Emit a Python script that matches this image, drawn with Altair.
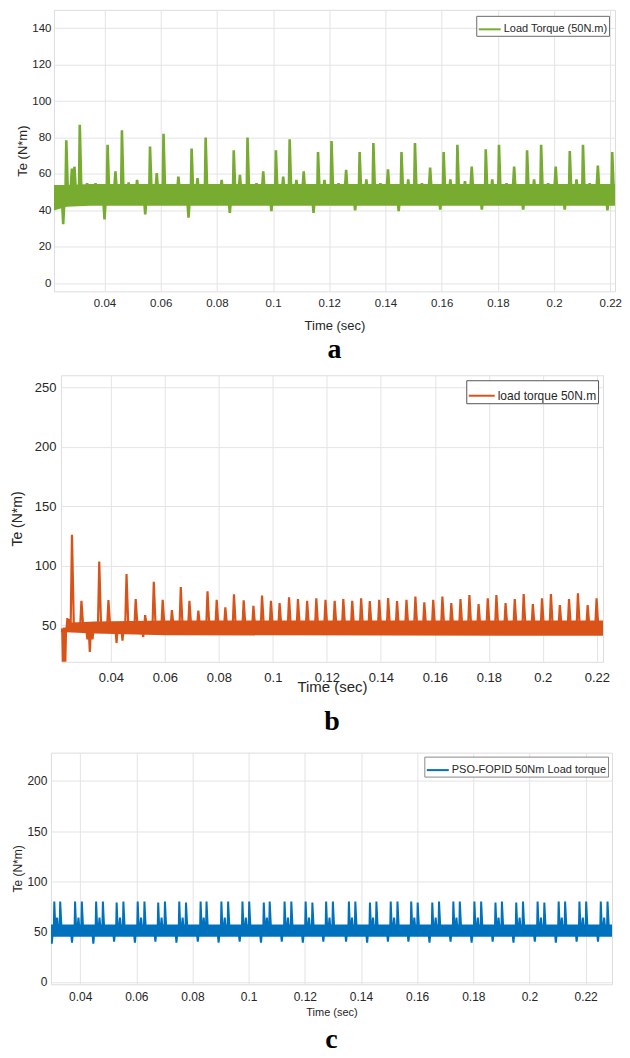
import altair as alt
import pandas as pd

FONT = "Liberation Sans"
SERIF = "Liberation Serif"
TXT = "#262626"
GRID = "#e4e4e4"

x_ticks = [0.04, 0.06, 0.08, 0.10, 0.12, 0.14, 0.16, 0.18, 0.20, 0.22]

# ---------------- panel a (green) ----------------
a_label = "Load Torque (50N.m)"
a_color = "#77AC30"
a_xdom = [0.022, 0.2217]
a_ydom = [-4.4, 150]
a_yticks = [0, 20, 40, 60, 80, 100, 120, 140]
a_ends_t = [0.022, 0.2217]
a_ends_v = [50, 50]
a_spike_t = [0.0264, 0.0312, 0.0411, 0.0462, 0.0562, 0.0610, 0.0710, 0.0760, 0.0860,
             0.0909, 0.1010, 0.1059, 0.1160, 0.1208, 0.1308, 0.1357, 0.1457, 0.1505,
             0.1607, 0.1656, 0.1757, 0.1804, 0.1904, 0.1954, 0.2056, 0.2103, 0.2207]
a_spike_v = [78.5, 87, 76, 84, 75, 82, 74, 80, 73, 80, 73, 79, 72, 78, 72, 77, 72, 77,
             72, 76, 73.5, 76, 73, 76, 72.6, 76, 72]
a_bump_t = [0.0284, 0.0293, 0.0338, 0.0368, 0.0439, 0.0486, 0.0516, 0.0586, 0.0634,
            0.0663, 0.0731, 0.0787, 0.0817, 0.0882, 0.0941, 0.0965, 0.1036, 0.1083,
            0.1109, 0.1183, 0.1233, 0.1260, 0.1332, 0.1382, 0.1409, 0.1481, 0.1530,
            0.1559, 0.1631, 0.1683, 0.1707, 0.1780, 0.1831, 0.1858, 0.1929, 0.1979,
            0.2006, 0.2080, 0.2127, 0.2156]
a_bump_v = [63, 64, 55, 55, 61.4, 55.3, 56.8, 60.5, 54, 58.6, 57.7, 54, 56.8, 59.5,
            55, 61.4, 58.6, 56.8, 61.4, 56.8, 55, 62.3, 57, 55, 62.6, 57, 55, 63.5,
            57, 56, 64, 57, 55, 64, 57, 55, 64, 57, 55, 64.6]
a_dip_t = [0.0253, 0.0400, 0.0545, 0.0699, 0.0846, 0.0994, 0.1144, 0.1292, 0.1447,
           0.1595, 0.1743, 0.1890, 0.2038, 0.2190]
a_dip_v = [32.4, 35, 37.8, 36, 38.7, 39.6, 38.7, 40, 39.6, 40.5, 40.5, 40.5, 40.5, 40]
a_band_t = [0.022, 0.0265, 0.035, 0.2217]
a_band_lo = [40, 42, 42.5, 42.5]
a_band_hi = [54, 54, 54.5, 54.5]

# ---------------- panel b (orange) ----------------
b_label = "load torque 50N.m"
b_color = "#D95319"
b_xdom = [0.0215, 0.2223]
b_ydom = [19.2, 260]
b_yticks = [50, 100, 150, 200, 250]
b_ends_t = [0.0215, 0.2223]
b_ends_v = [44, 45]
b_spike_t = [0.0256, 0.0291, 0.0357, 0.0391, 0.0458, 0.0492, 0.0527, 0.0559, 0.0592,
             0.0626, 0.0659, 0.0691, 0.0724, 0.0758, 0.0792, 0.0824, 0.0856, 0.0892,
             0.0928, 0.0960, 0.0993, 0.1025, 0.1060, 0.1093, 0.1127, 0.1161, 0.1195,
             0.1229, 0.1261, 0.1294, 0.1327, 0.1359, 0.1394, 0.1427, 0.1460, 0.1495,
             0.1528, 0.1561, 0.1594, 0.1628, 0.1661, 0.1695, 0.1728, 0.1762, 0.1796,
             0.1828, 0.1862, 0.1896, 0.1929, 0.1963, 0.1997, 0.2030, 0.2063, 0.2097,
             0.2130, 0.2166, 0.2199]
b_spike_v = [126, 70.5, 103.4, 71, 93, 72, 58.4, 86.5, 71.3, 62.6, 82, 70.5, 62.3,
             78.4, 71.3, 64.9, 76, 70.8, 66.3, 74.8, 70.5, 68.5, 73.3, 71.9, 70.5,
             72.5, 71.3, 70.5, 71.9, 70.5, 72.5, 70.2, 71.3, 72.7, 70.2, 71.3, 74.1,
             69.1, 71.3, 74.1, 68.5, 71.9, 75.3, 67.7, 72.5, 75.3, 68.5, 71.9, 76.1,
             67.7, 72.5, 76.1, 66.8, 71.9, 76.7, 66.8, 72.5]
b_bump_t = [0.0239, 0.0246]
b_bump_v = [56, 55]
b_dip_t = [0.0224, 0.0230, 0.0313, 0.0322, 0.0332, 0.0421, 0.0443, 0.0520]
b_dip_v = [5, 5, 38, 27.5, 38, 35, 37, 40]
b_band_t = [0.0234, 0.034, 0.060, 0.2223]
b_band_lo = [44, 43, 41.5, 41]
b_band_hi = [52, 53, 54, 54]

# ---------------- panel c (blue) ----------------
c_label = "PSO-FOPID 50Nm Load torque"
c_color = "#0072BD"
c_xdom = [0.0296, 0.2294]
c_ydom = [-2.3, 228]
c_yticks = [0, 50, 100, 150, 200]
c_ends_t = [0.0296, 0.2294]
c_ends_v = [50, 53]
c_spike1_t = [0.0308, 0.0382, 0.0457, 0.0530, 0.0605, 0.0678, 0.0753, 0.0829, 0.0903,
              0.0978, 0.1054, 0.1128, 0.1203, 0.1276, 0.1357, 0.1432, 0.1506, 0.1579,
              0.1654, 0.1729, 0.1804, 0.1879, 0.1953, 0.2029, 0.2104, 0.2178, 0.2254]
c_spike1_v = [80, 80, 80, 79, 80, 79, 80, 80, 80, 80, 79, 80, 80, 80, 80, 79, 80, 80,
              79, 80, 80, 79, 79, 80, 80, 80, 80]
c_spike2_t = [0.0329, 0.0406, 0.0481, 0.0554, 0.0629, 0.0702, 0.0777, 0.0850, 0.0927,
              0.1002, 0.1075, 0.1152, 0.1227, 0.1300, 0.1380, 0.1455, 0.1530, 0.1602,
              0.1678, 0.1752, 0.1828, 0.1902, 0.1977, 0.2053, 0.2127, 0.2202, 0.2278]
c_spike2_v = [80, 80, 80, 80, 80, 80, 79, 80, 80, 80, 80, 80, 79, 80, 80, 80, 80, 79,
              80, 80, 80, 80, 80, 79, 80, 80, 80]
c_mid_t = [0.0318, 0.0394, 0.0469, 0.0542, 0.0617, 0.0690, 0.0765, 0.0840, 0.0915,
           0.0990, 0.1065, 0.1140, 0.1215, 0.1288, 0.1368, 0.1443, 0.1518, 0.1590,
           0.1666, 0.1740, 0.1816, 0.1890, 0.1965, 0.2041, 0.2115, 0.2190, 0.2266]
c_mid_v = [64] * 27
c_dip_t = [0.0299, 0.0371, 0.0447, 0.0521, 0.0595, 0.0668, 0.0743, 0.0819, 0.0893,
           0.0968, 0.1044, 0.1118, 0.1193, 0.1266, 0.1347, 0.1422, 0.1496, 0.1569,
           0.1644, 0.1719, 0.1794, 0.1869, 0.1943, 0.2019, 0.2094, 0.2168, 0.2244]
c_dip_v = [38, 39, 38, 40, 39, 40, 39, 40, 39, 40, 39, 40, 39, 40, 40, 39, 40, 40,
           39, 40, 39, 40, 39, 40, 39, 40, 40]
c_band_t = [0.0296, 0.2294]
c_band_lo = [45, 45]
c_band_hi = [57, 57]


def line_frame(ends_t, ends_v, features, base, label):
    """features: list of (times, values, left_width, right_width)"""
    pts = list(zip(ends_t, ends_v))
    for ts, vs, wl, wr in features:
        for t, v in zip(ts, vs):
            pts += [(t - wl, base), (t, v), (t + wr, base)]
    pts.sort()
    df = pd.DataFrame(pts, columns=["t", "v"])
    df["series"] = label
    return df


def spacer(w):
    return alt.Chart(pd.DataFrame({"s": [0.5]})).mark_point(opacity=0, size=1).encode(
        x=alt.X("s:Q", axis=None, scale=alt.Scale(domain=[0, 1])),
        y=alt.Y("s:Q", axis=None, scale=alt.Scale(domain=[0, 1])),
    ).properties(width=w, height=1, view=alt.ViewBackground(strokeOpacity=0))


def panel(key, label, color, xdom, ydom, yticks, band_t, band_lo, band_hi, line_df,
          width, height, sw, lab_fs, xt_fs, yt_fs, x_lab_pad, x_title_pad,
          y_lab_pad, y_title_pad, leg_off, leg_fs, sym_len, letter, letter_off, box,
          spacer_fs):
    xs = alt.Scale(domain=xdom, nice=False, zero=False)
    ys = alt.Scale(domain=ydom, nice=False, zero=False)
    xaxis = alt.Axis(values=x_ticks, format="~g", title="Time (sec)", grid=True,
                     gridColor=GRID, domain=False, ticks=False,
                     labelFont=FONT, labelFontSize=lab_fs,
                     labelColor=TXT, labelPadding=x_lab_pad, titleFont=FONT,
                     titleFontSize=xt_fs, titleFontWeight="normal", titleColor=TXT,
                     titlePadding=x_title_pad)
    yaxis = alt.Axis(values=yticks, title="Te (N*m)", grid=True, gridColor=GRID,
                     domain=False, ticks=False,
                     labelFont=FONT, labelFontSize=lab_fs, labelColor=TXT,
                     labelPadding=y_lab_pad, titleFont=FONT, titleFontSize=yt_fs,
                     titleFontWeight="normal", titleColor=TXT,
                     titlePadding=y_title_pad)
    band_df = pd.DataFrame({"t": band_t, "lo": band_lo, "hi": band_hi})
    band = alt.Chart(band_df).mark_area(color=color, clip=True).encode(
        x=alt.X("t:Q", scale=xs, axis=xaxis),
        y=alt.Y("lo:Q", scale=ys, axis=yaxis),
        y2="hi:Q",
    )
    line_df = line_df.rename(columns={"series": key})
    line = alt.Chart(line_df).mark_line(strokeWidth=sw, clip=True).encode(
        x=alt.X("t:Q", scale=xs, axis=xaxis),
        y=alt.Y("v:Q", scale=ys, axis=yaxis),
        color=alt.Color(f"{key}:N", scale=alt.Scale(range=[color]),
                        legend=alt.Legend(
                            title=None, orient="top-right", offset=leg_off,
                            fillColor="white", strokeColor=box, padding=1.5,
                            cornerRadius=0, symbolType="stroke",
                            symbolSize=sym_len * sym_len, symbolStrokeWidth=2,
                            labelFont=FONT, labelFontSize=leg_fs, labelColor=TXT,
                            labelOffset=2)),
    )
    title_kw = dict(orient="bottom", anchor="middle", font=SERIF, fontSize=28,
                    fontWeight="bold", color="black", offset=letter_off)
    if spacer_fs:
        title_kw.update(subtitle=" ", subtitleFontSize=spacer_fs, subtitlePadding=0)
    return alt.layer(band, line).properties(
        width=width, height=height, title=alt.Title(letter, **title_kw))


a_line = line_frame(a_ends_t, a_ends_v,
                    [(a_spike_t, a_spike_v, 0.0003, 0.0006),
                     (a_bump_t, a_bump_v, 0.0006, 0.0006),
                     (a_dip_t, a_dip_v, 0.0005, 0.0005)], 48, a_label)
b_line = line_frame(b_ends_t, b_ends_v,
                    [(b_spike_t, b_spike_v, 0.0005, 0.0007),
                     (b_bump_t, b_bump_v, 0.0003, 0.0003),
                     (b_dip_t, b_dip_v, 0.0004, 0.0004)], 47, b_label)
c_line = line_frame(c_ends_t, c_ends_v,
                    [(c_spike1_t, c_spike1_v, 0.0002, 0.0004),
                     (c_spike2_t, c_spike2_v, 0.0002, 0.0005),
                     (c_mid_t, c_mid_v, 0.0004, 0.0004),
                     (c_dip_t, c_dip_v, 0.0004, 0.0004)], 51, c_label)

pa = panel("sa", a_label, a_color, a_xdom, a_ydom, a_yticks, a_band_t, a_band_lo,
           a_band_hi, a_line, 562, 282, 2.6, 11.5, 13, 13, 6.5, 10, 3, 2, 6, 11,
           22, "a", 4, "#6a6a6a", 0)
pb = panel("sb", b_label, b_color, b_xdom, b_ydom, b_yticks, b_band_t, b_band_lo,
           b_band_hi, b_line, 543, 287, 2.2, 13, 15, 14, 10, -5, 5, 9.6, 5, 12,
           26, "b", 13, "#555555", 6)
pc = panel("sc", c_label, c_color, c_xdom, c_ydom, c_yticks, c_band_t, c_band_lo,
           c_band_hi, c_line, 562, 232, 2.0, 12, 11, 12, 7.5, 4, 4, 2.7, 4, 11,
           22, "c", 8, "#8a8a8a", 0)


def row(w, p):
    return alt.hconcat(spacer(w), p, spacing=0).resolve_scale(
        color="independent").resolve_legend(color="independent")


chart = alt.concat(row(8, pa), row(2, pb), row(2, pc), columns=1, spacing=9,
                   align="none", bounds="full").resolve_scale(
    color="independent").resolve_legend(color="independent").properties(
    padding={"left": 0, "top": 0, "right": 0, "bottom": 0},
).configure_view(stroke="#6a6a6a", strokeWidth=1).configure(background="white")

chart.save("out.html", embed_options={"renderer": "svg", "actions": False})
